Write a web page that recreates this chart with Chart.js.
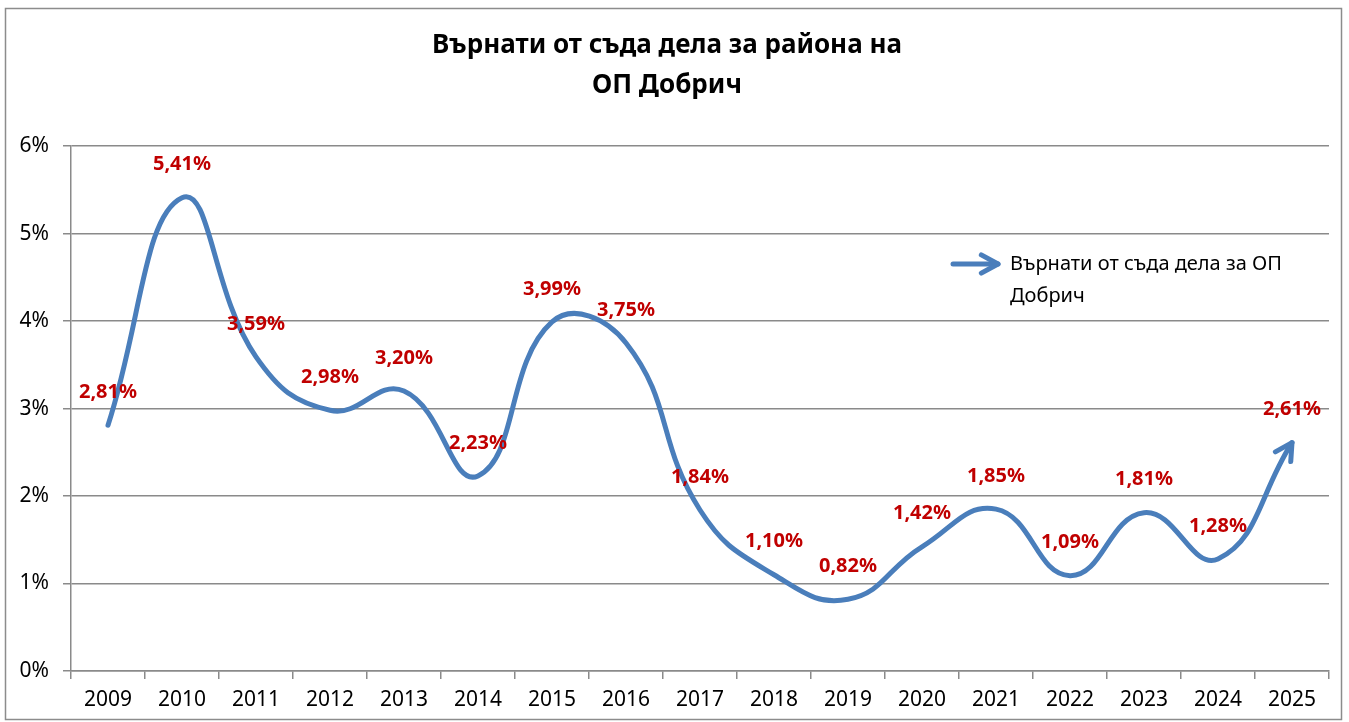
<!DOCTYPE html>
<html>
<head>
<meta charset="utf-8">
<script src="https://cdn.jsdelivr.net/npm/chart.js@4.4.1/dist/chart.umd.min.js"></script>
<style>
  html, body { margin: 0; padding: 0; background: #fff; }
  #wrap { width: 1349px; height: 722px; position: relative; }
</style>
</head>
<body>
<div id="wrap"><canvas id="myChart"></canvas></div>
<script>
const years = ["2009", "2010", "2011", "2012", "2013", "2014", "2015", "2016", "2017",
  "2018", "2019", "2020", "2021", "2022", "2023", "2024", "2025"];
const returnedPct = [2.81, 5.41, 3.59, 2.98, 3.20, 2.23, 3.99, 3.75, 1.84,
  1.10, 0.82, 1.42, 1.85, 1.09, 1.81, 1.28, 2.61];
const titleLines = ["Върнати от съда дела за района на", "ОП Добрич"];
const seriesName = ["Върнати от съда дела за ОП", "Добрич"];

const lineBlue = "#4A7EBB";
const gridGray = "#8a8a8a";
const font = "'Noto Sans', 'Open Sans', sans-serif";

function chevron(c, x, y, ang, len, spread) {
  c.beginPath();
  c.moveTo(x - len * Math.cos(ang - spread), y - len * Math.sin(ang - spread));
  c.lineTo(x, y);
  c.lineTo(x - len * Math.cos(ang + spread), y - len * Math.sin(ang + spread));
  c.stroke();
}

// outer frame, value labels, arrow end and the legend
const extras = {
  id: "extras",
  beforeDraw(chart) {
    const c = chart.ctx;
    c.save();
    c.fillStyle = "#fff";
    c.fillRect(0, 0, chart.width, chart.height);
    c.strokeStyle = "#8c8c8c";
    c.lineWidth = 1.5;
    c.strokeRect(5.5, 8.5, 1336, 711);
    c.restore();
  },
  afterDatasetsDraw(chart) {
    const c = chart.ctx;
    const meta = chart.getDatasetMeta(0);
    const pts = meta.data;
    c.save();
    // arrow head on last point
    const last = pts[pts.length - 1];
    const ang = Math.atan2(last.y - last.cp1y, last.x - last.cp1x);
    c.strokeStyle = lineBlue;
    c.lineWidth = 5;
    c.lineCap = "round";
    c.lineJoin = "round";
    chevron(c, last.x, last.y, ang, 19, 0.5);

    // data labels
    c.fillStyle = "#C00000";
    c.font = "bold 20px " + font;
    c.textAlign = "center";
    c.textBaseline = "middle";
    pts.forEach((p, i) => {
      const txt = returnedPct[i].toFixed(2).replace(".", ",") + "%";
      c.fillText(txt, p.x, p.y - 33);
    });

    // legend
    c.strokeStyle = lineBlue;
    c.lineWidth = 5;
    c.beginPath();
    c.moveTo(953, 264);
    c.lineTo(998, 264);
    c.stroke();
    chevron(c, 998, 264, 0, 19, 0.5);
    c.fillStyle = "#000";
    c.font = "20px " + font;
    c.textAlign = "left";
    c.fillText(seriesName[0], 1010, 264);
    c.fillText(seriesName[1], 1010, 296);
    c.restore();
  }
};

const ctx = document.getElementById("myChart").getContext("2d");
let chart = new Chart(ctx, {
  type: "line",
  data: {
    labels: years,
    datasets: [
      {
        label: seriesName.join(" "),
        borderColor: lineBlue,
        borderWidth: 5,
        borderCapStyle: "round",
        pointRadius: 0,
        tension: 0.45,
        fill: false,
        data: returnedPct,
      },
    ],
  },
  options: {
    responsive: true,
    maintainAspectRatio: false,
    animation: false,
    layout: { padding: { left: 5, right: 20, top: 0, bottom: 5 } },
    plugins: {
      legend: { display: false },
      tooltip: { enabled: false },
      title: {
        display: true,
        text: titleLines,
        color: "#000",
        font: { family: font, size: 26, weight: "bold", lineHeight: 1.54 },
        padding: { top: 26, bottom: 40 },
      },
    },
    scales: {
      x: {
        offset: true,
        grid: { offset: true, drawOnChartArea: false, drawTicks: true, tickLength: 8, color: gridGray, lineWidth: 1.5 },
        border: { display: true, color: gridGray, width: 1.5 },
        ticks: { color: "#000", font: { family: font, size: 21 }, padding: 8, maxRotation: 0, autoSkip: false },
        afterFit(scale) { scale.height = 46; },
      },
      y: {
        min: 0,
        max: 6,
        grid: { color: gridGray, lineWidth: 1.5, tickLength: 8 },
        border: { display: true, color: gridGray, width: 1.5 },
        ticks: {
          stepSize: 1,
          color: "#000",
          font: { family: font, size: 21 },
          padding: 14,
          callback: (v) => v + "%",
        },
        afterFit(scale) { scale.width = 66; },
      },
    },
  },
  plugins: [extras],
});
</script>
</body>
</html>
